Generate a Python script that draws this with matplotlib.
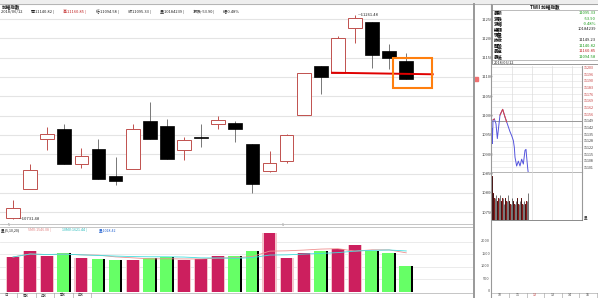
import matplotlib
matplotlib.use('Agg')
import matplotlib.pyplot as plt
from matplotlib.patches import Rectangle
import numpy as np

plt.rcParams['font.family'] = ['Noto Sans CJK TC', 'DejaVu Sans']

W, H = 598, 298

# ---------------- data ----------------
opens  = [10735.0, 10809.4, 10938.8, 10965.4, 10874.9, 10912.9, 10843.1, 10861.9, 10986.9, 10973.9,
          10911.1, 10945.5, 10977.6, 10980.2, 10925.8, 10856.8, 10883.4, 11001.6, 11129.2, 11111.1,
          11227.5, 11243.0, 11168.0, 11140.82]
highs  = [10781.8, 10874.9, 10970.6, 10978.4, 10916.3, 10938.8, 10893.8, 10978.4, 11034.5, 10991.3,
          10944.7, 10977.6, 10999.1, 10986.1, 10925.8, 10909.3, 10953.3, 11111.1, 11129.2, 11206.8,
          11261.48, 11243.0, 11185.3, 11160.85]
lows   = [10731.48, 10809.4, 10911.1, 10874.9, 10865.3, 10835.3, 10820.6, 10861.9, 10938.8, 10887.0,
          10885.2, 10918.1, 10965.4, 10931.0, 10800.6, 10854.2, 10878.2, 11001.6, 11056.0, 11111.1,
          11188.7, 11122.5, 11119.9, 11094.58]
closes = [10761.1, 10859.4, 10952.5, 10874.9, 10896.4, 10835.3, 10831.7, 10965.4, 10938.8, 10887.0,
          10937.0, 10942.1, 10988.7, 10964.6, 10822.4, 10876.7, 10949.9, 11111.1, 11100.7, 11201.6,
          11251.8, 11156.9, 11149.23, 11095.33]
volumes = [1380, 1620, 1436, 1540, 1356, 1316, 1276, 1248, 1328, 1380,
           1276, 1288, 1408, 1408, 1608, 2356, 1356, 1556, 1608, 1688,
           1876, 1608, 1540, 1018.42]
price_ticks = [11250, 11200, 11150, 11100, 11050, 11000, 10950, 10900, 10850, 10800, 10750]
vol_ticks = [0, 500, 1000, 1500, 2000]
date_labels = ['5', '6']
date_label_idx = [0, 16]

support_x = [18.6, 24.6]
support_y = [11111.1, 11107.0]
box_x = [22.2, 24.5]
box_y = [11072.3, 11149.9]

quote_names = ['最新', '漲跌', '漲幅', '總額', '現量', '昨收', '開盤', '最高', '最低']
quote_vals = ['11095.33', '-53.90', '-0.48%', '10184239', '', '11149.23', '11140.82', '11160.85', '11094.58']
quote_cols = ['#1a9a1a', '#1a9a1a', '#1a9a1a', '#222222', '#222222', '#222222', '#1a9a1a', '#c02020', '#1a9a1a']

prev_close = 11149.23
intra_t = [0, 1, 3, 7, 12, 16, 24, 32, 39, 44, 49, 54, 59, 64, 67, 69, 74, 79, 84, 89, 94, 99, 102, 104, 107, 109]
intra_p = [11140.82, 11126, 11150, 11151, 11146, 11131, 11155, 11160.85, 11153, 11148, 11143, 11138, 11134,
           11129, 11122, 11112, 11103, 11108, 11103, 11110, 11105, 11119, 11120, 11112, 11101, 11095.33]
intra_vt = [1, 4, 8, 12, 16, 20, 24, 28, 32, 36, 40, 44, 48, 52, 56, 60, 64, 68, 72, 76, 80, 84, 88, 92, 96, 100, 104, 108]
intra_v = [16, 10, 8, 9, 7, 8, 9, 7, 8, 6, 8, 7, 9, 7, 6, 8, 7, 6, 7, 8, 6, 7, 8, 6, 7, 6, 7, 10]
intra_ticks = [11203.6, 11196.8, 11190.0, 11183.2, 11176.4, 11169.6, 11162.8, 11156.0, 11149.2,
               11142.4, 11135.6, 11128.8, 11122.0, 11115.2, 11108.4, 11101.6]
intra_tick_labels = ['11203', '11196', '11190', '11183', '11176', '11169', '11162', '11156', '11149',
                     '11142', '11135', '11128', '11122', '11115', '11108', '11101']

RED = '#c0504d'
CRIM = '#cc1f5e'
GRN = '#66ff66'

fig = plt.figure(figsize=(W / 100, H / 100), dpi=100)
fig.patch.set_facecolor('white')


def px_axes(x0, y0, x1, y1):
    a = fig.add_axes([x0 / W, 1 - y1 / H, (x1 - x0) / W, (y1 - y0) / H])
    a.set_facecolor('none')
    return a


def fline(x0, y0, x1, y1, **kw):
    fig.add_artist(plt.Line2D([x0 / W, x1 / W], [1 - y0 / H, 1 - y1 / H], transform=fig.transFigure, **kw))


def ftext(x, y, s, **kw):
    return fig.text(x / W, 1 - y / H, s, **kw)


# toolbar strip
fig.add_artist(Rectangle((0, 1 - 4 / H), 1, 4 / H, transform=fig.transFigure, color='#eeeeee'))
fline(0, 4, 598, 4, color='#aaaaaa', lw=0.6)

# ---------------- main candle chart ----------------
ax = px_axes(0, 8, 473, 223)
n = len(opens)
for i in range(n):
    o, h, l, c = opens[i], highs[i], lows[i], closes[i]
    if c >= o:
        ax.vlines(i, c, h, color=RED, lw=0.7, zorder=2)
        ax.vlines(i, l, o, color=RED, lw=0.7, zorder=2)
        ax.add_patch(Rectangle((i - 0.4, o), 0.8, max(c - o, 0.8), facecolor='white',
                               edgecolor=RED, lw=0.7, zorder=3))
    else:
        ax.vlines(i, l, h, color='#777777', lw=0.7, zorder=2)
        ax.add_patch(Rectangle((i - 0.4, c), 0.8, max(o - c, 1.5), facecolor='black',
                               edgecolor='black', lw=0.5, zorder=3))
ax.set_xlim(-0.76, 26.9)
ax.set_ylim(10722.3, 11278.5)
for t in price_ticks:
    ax.axhline(t, color='#e4e4e4', lw=0.8, zorder=0)
imax = int(np.argmax(highs))
imin = int(np.argmin(lows))
ax.text(imax + 0.15, highs[imax], '\u2014' + f'{highs[imax]:.2f}', fontsize=3, va='center', ha='left', color='#222')
ax.text(imin + 0.35, lows[imin], '\u2014' + f'{lows[imin]:.2f}', fontsize=3, va='center', ha='left', color='#222')
ax.plot(support_x, support_y, color='#e00000', lw=1.4, zorder=5, solid_capstyle='butt')
ax.add_patch(Rectangle((box_x[0], box_y[0]), box_x[1] - box_x[0], box_y[1] - box_y[0], fill=False,
                       edgecolor='#ff7f0e', lw=1.5, zorder=6))
ax.set_xticks([])
ax.yaxis.tick_right()
ax.set_yticks(price_ticks)
ax.set_yticklabels([str(t) for t in price_ticks])
ax.tick_params(axis='y', length=0, pad=6, labelsize=3, labelcolor='#444')
for s in ax.spines.values():
    s.set_visible(False)
# current price marker (small red tag at axis edge)
ax.plot([27.08], [closes[-1]], marker='s', markersize=2.2, color='#f07070', clip_on=False, zorder=7)

# header texts
ftext(2, 6.5, '加權指數', fontsize=3.3, va='center', ha='left', weight='bold', color='#222')
hdr = [('2018/06/12 ', '#222'), ('開11140.82 | ', '#222'), ('高11160.85 | ', '#c02020'),
       ('低11094.58 | ', '#222'), ('收11095.33 | ', '#222'), ('量10184239 | ', '#222'),
       ('漲跌-53.90 | ', '#222'), ('幅-0.48%', '#222')]
xh = 1
for s, col in hdr:
    ftext(xh, 11.5, s, fontsize=2.9, va='center', ha='left', color=col)
    xh += len(s) * 2.7

# date row
fline(0, 223.5, 473, 223.5, color='#bbbbbb', lw=0.6)
for lab, idx in zip(date_labels, date_label_idx):
    ax.text(idx - 0.3, 10722.3, lab, fontsize=2.6, va='top', ha='left', color='#666')

# ---------------- volume ----------------
vax = px_axes(0, 227, 473, 291.5)
vcol = []
for i in range(n):
    up = True if i == 0 else closes[i] >= closes[i - 1]
    vcol.append(up)
for i in range(n):
    if vcol[i]:
        vax.bar(i, volumes[i], width=0.82, color='#f4c4cc', zorder=2)
        vax.bar(i, volumes[i], width=0.68, color=CRIM, zorder=3)
    else:
        vax.bar(i, volumes[i], width=0.8, color=GRN, zorder=2)
        vax.bar(i + 0.34, volumes[i], width=0.12, color='black', zorder=3)
vs = np.array(volumes, dtype=float)
ma5 = [vs[max(0, i - 4):i + 1].mean() for i in range(n)]
ma10 = [vs[max(0, i - 9):i + 1].mean() for i in range(n)]
vax.plot(range(n), ma5, color='#f09090', lw=0.6, zorder=4)
vax.plot(range(n), ma10, color='#40e0e0', lw=0.6, zorder=4)
vax.set_xlim(-0.76, 26.9)
vax.set_ylim(0, 2580)
for t in vol_ticks[1:]:
    vax.axhline(t, color='#e8e8e8', lw=0.6, zorder=0)
vax.set_xticks([])
vax.set_yticks([])
for s in vax.spines.values():
    s.set_visible(False)
vax.spines['top'].set_visible(True)
vax.spines['top'].set_color('#bbbbbb')
vax.spines['top'].set_linewidth(0.6)
vh = [('量(5,10,20) ', '#222'), (f'5MV:{ma5[-1]:.2f} | ', '#e08080'), (f'10MV:{ma10[-1]:.2f} | ', '#20b8b8'),
      (f'量:{volumes[-1]:.2f}', '#2060d0')]
xh = 1
for s, col in vh:
    ftext(xh, 230.5, s, fontsize=2.6, va='center', ha='left', color=col)
    xh += len(s) * 2.45
for t in vol_ticks:
    ftext(490, 291.2 - t / 40.0, str(t), fontsize=2.8, va='center', ha='right', color='#555')

# bottom tabs
fline(0, 292.5, 473, 292.5, color='#bbbbbb', lw=0.6)
tabs = ['日', '周K', '月K', '季K', '年K']
for k, tb in enumerate(tabs):
    ftext(4 + 18.5 * k, 295.5, tb, fontsize=2.6, va='center', ha='left', color='#444')
    fline(17 + 18.5 * k, 293, 17 + 18.5 * k, 298, color='#999', lw=0.4)

# separators
fline(473.5, 4, 473.5, 298, color='#999999', lw=1.4)
fline(491.5, 4, 491.5, 298, color='#999999', lw=0.8)

# ---------------- right quote box ----------------
fig.add_artist(Rectangle((492 / W, 1 - 64 / H), 106 / W, 60 / H, transform=fig.transFigure,
                         fill=False, ec='#888888', lw=0.6))
ftext(545, 7, 'TWII 加權指數', fontsize=3.3, va='center', ha='center', weight='bold', color='#111')
fline(492, 9.5, 598, 9.5, color='#888888', lw=0.4)
for k, (nm, vv, cc) in enumerate(zip(quote_names, quote_vals, quote_cols)):
    yy = 13.3 + 5.4 * k
    ftext(494, yy, nm, fontsize=3.2, va='center', ha='left', weight='bold', color='#111')
    ftext(596, yy, vv, fontsize=3.0, va='center', ha='right', color=cc)
fline(492, 60, 598, 60, color='#888888', lw=0.4)
ftext(494, 62.5, '2018/06/12', fontsize=2.8, va='center', ha='left', color='#222')

# ---------------- intraday ----------------
iax = px_axes(492, 66, 582, 172)
iax.set_xlim(0, 270)
iax.set_ylim(11149.23 - 51.3 * 1.02, 11149.23 + 54.7 * 1.02)
for t in intra_ticks:
    iax.axhline(t, color='#e6e6e6', lw=0.5, zorder=0)
for t in [60, 120, 180, 240]:
    iax.axvline(t, color='#dddddd', lw=0.5, zorder=0)
iax.axhline(prev_close, color='#999999', lw=0.7, zorder=1)
ip = np.array(intra_p)
iax.plot(intra_t, intra_p, color='#5555dd', lw=0.7, zorder=3)
above = np.ma.masked_where(ip < prev_close - 3, ip)
iax.plot(intra_t, above, color='#dd4040', lw=0.7, zorder=4)
iax.yaxis.tick_right()
iax.set_yticks(intra_ticks)
iax.set_yticklabels(intra_tick_labels)
for lab, t in zip(iax.get_yticklabels(), intra_ticks):
    lab.set_color('#c03030' if t > prev_close + 1 else '#333333')
iax.tick_params(axis='y', length=0, pad=1.5, labelsize=2.6)
iax.set_xticks([])
for s in ['top', 'left']:
    iax.spines[s].set_visible(False)
iax.spines['right'].set_color('#999999')
iax.spines['right'].set_linewidth(0.8)
iax.spines['bottom'].set_color('#aaaaaa')
iax.spines['bottom'].set_linewidth(0.6)
iax.spines['bottom'].set_linestyle((0, (2, 1)))

ivax = px_axes(492, 172, 582, 220)
ivax.set_xlim(0, 270)
ivax.set_ylim(0, 17.5)
for t in [60, 120, 180, 240]:
    ivax.axvline(t, color='#dddddd', lw=0.5, zorder=0)
ivax.bar(intra_vt, intra_v, width=2.2, color='#8b1a1a', zorder=2)
ivax.vlines(intra_vt, 0, intra_v, color='#111111', lw=0.4, zorder=3)
ivax.set_xticks([])
ivax.set_yticks([])
for s in ['top', 'left']:
    ivax.spines[s].set_visible(False)
ivax.spines['right'].set_color('#999999')
ivax.spines['right'].set_linewidth(0.8)
ivax.spines['bottom'].set_color('#777777')
ivax.spines['bottom'].set_linewidth(0.6)
ftext(584, 217, '量', fontsize=2.6, va='center', ha='left', color='#333')

fline(492, 292.5, 598, 292.5, color='#bbbbbb', lw=0.6)
rtabs = ['10', '11', '12', '13', '14', '15']
for k, tb in enumerate(rtabs):
    ftext(500 + 17.5 * k, 295.5, tb, fontsize=2.6, va='center', ha='center',
          color='#c03030' if k == 2 else '#444')
    fline(509 + 17.5 * k, 293, 509 + 17.5 * k, 298, color='#999', lw=0.4)

fig.savefig('out.png', dpi=100)
